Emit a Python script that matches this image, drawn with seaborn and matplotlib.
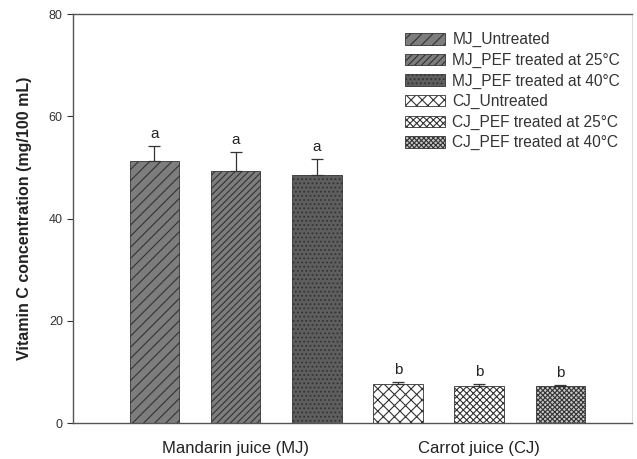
import numpy as np
import pandas as pd
import matplotlib
matplotlib.use('Agg')
import matplotlib.pyplot as plt
import seaborn as sns
from matplotlib.patches import Patch

# Data
samples = ['MJ_Untreated', 'MJ_PEF treated at 25\u00b0C', 'MJ_PEF treated at 40\u00b0C',
           'CJ_Untreated', 'CJ_PEF treated at 25\u00b0C', 'CJ_PEF treated at 40\u00b0C']
vitc = [51.2, 49.3, 48.6, 7.7, 7.2, 7.2]
vitc_err = [3.0, 3.8, 3.0, 0.4, 0.4, 0.3]
letters = ['a', 'a', 'a', 'b', 'b', 'b']
juices = ['Mandarin juice (MJ)', 'Carrot juice (CJ)']

# styles
fills = ['#7d7d7d', '#7d7d7d', '#5e5e5e', '#ffffff', '#ffffff', '#c8c8c8']
hatches = ['///', '/////', '....', 'xxx', 'xxxxx', 'xxxxxxx']
edge = '#333333'

sns.set_style('ticks')
plt.rcParams['font.family'] = ['Liberation Sans', 'DejaVu Sans']
plt.rcParams['hatch.linewidth'] = 0.8

df = pd.DataFrame({'sample': samples, 'vitc': vitc})

fig = plt.figure(figsize=(6.37, 4.59), dpi=100)
ax = fig.add_axes([0.115, 0.078, 0.877, 0.891])

sns.barplot(data=df, x='sample', y='vitc', order=samples, width=0.61,
            ax=ax, color='gray', errorbar=None)

for i, p in enumerate(ax.patches):
    p.set_facecolor(fills[i])
    p.set_edgecolor(edge)
    p.set_hatch(hatches[i])
    p.set_linewidth(0.6)

xpos = np.arange(len(samples))
ax.errorbar(xpos, vitc, yerr=[np.zeros(len(vitc)), vitc_err], fmt='none',
            ecolor='#333333', elinewidth=0.9, capsize=4, capthick=0.9)
for x, v, e, t in zip(xpos, vitc, vitc_err, letters):
    ax.text(x, v + e + 1.0, t, ha='center', va='bottom', fontsize=11, color='#222222')

ax.set_xlim(-1.0, 5.88)
ax.set_ylim(0, 80)
ax.set_yticks([0, 20, 40, 60, 80])
ax.set_xticks([1, 4])
ax.set_xticklabels(juices, fontsize=12, color='#222222')
ax.tick_params(axis='x', length=0, pad=13)
ax.tick_params(axis='y', labelsize=9, colors='#333333', length=4)
ax.set_xlabel('')
ax.set_ylabel('Vitamin C concentration (mg/100 mL)', fontsize=11.5,
              fontweight='bold', color='#222222', labelpad=12)

for s in ['left', 'bottom', 'top']:
    ax.spines[s].set_color('#555555')
    ax.spines[s].set_linewidth(1.0)
ax.spines['right'].set_color('#dddddd')
ax.spines['right'].set_linewidth(0.8)

handles = [Patch(facecolor=fills[i], edgecolor=edge, hatch=hatches[i], linewidth=0.6,
                 label=samples[i]) for i in range(len(samples))]
ax.legend(handles=handles, loc='upper right', bbox_to_anchor=(1.004, 0.99),
          frameon=False, fontsize=11.2, handlelength=2.6, handleheight=0.75,
          labelspacing=0.35, handletextpad=0.45, labelcolor='#333333')

fig.savefig('out.png', dpi=100)
